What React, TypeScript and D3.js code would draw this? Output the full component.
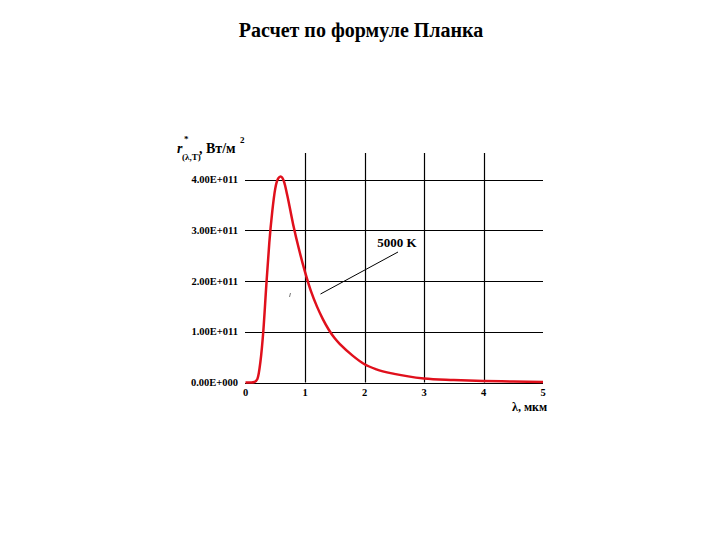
import React, { useRef, useEffect } from 'react';
import * as d3 from 'd3';

// wavelength, мкм
const lambda = [0, 0.1, 0.15, 0.2, 0.25, 0.3, 0.35, 0.4, 0.45, 0.5, 0.55, 0.59, 0.65, 0.7, 0.8, 0.9, 1.0, 1.1, 1.2, 1.3, 1.4, 1.5, 1.6, 1.8, 2.0, 2.2, 2.5, 3.0, 3.5, 4.0, 4.5, 5.0];
// r*(λ,T), Вт/м2, T = 5000 K
const radiance = [0, 0, 0.01e11, 0.07e11, 0.4e11, 1.02e11, 1.92e11, 2.75e11, 3.37e11, 3.82e11, 4.02e11, 4.06e11, 3.95e11, 3.7e11, 3.12e11, 2.62e11, 2.18e11, 1.8e11, 1.5e11, 1.25e11, 1.04e11, 0.87e11, 0.74e11, 0.53e11, 0.36e11, 0.26e11, 0.17e11, 0.08e11, 0.05e11, 0.03e11, 0.02e11, 0.01e11];

const xTicks = [0, 1, 2, 3, 4, 5];
const yTicks = [0, 1e11, 2e11, 3e11, 4e11];
const yTickLabels = ['0.00E+000', '1.00E+011', '2.00E+011', '3.00E+011', '4.00E+011'];

const FONT = '"Liberation Serif", "Times New Roman", serif';

const App = () => {
    const svgRef = useRef<SVGSVGElement>(null);

    useEffect(() => {
        const svg = d3.select(svgRef.current);
        svg.selectAll('*').remove();

        const x = d3.scaleLinear().domain([0, 5]).range([245.5, 543]);
        const y = d3.scaleLinear().domain([0, 4e11]).range([382.5, 179.5]);

        svg.append('rect').attr('width', 720).attr('height', 540).attr('fill', '#fff');

        const label = (tx: number, ty: number, txt: string, size: number, anchor = 'start', italic = false) =>
            svg.append('text')
                .attr('x', tx).attr('y', ty)
                .attr('text-anchor', anchor)
                .style('font-family', FONT).style('font-weight', 'bold')
                .style('font-size', size + 'px')
                .style('font-style', italic ? 'italic' : 'normal')
                .text(txt);

        // title
        label(361, 37, 'Расчет по формуле Планка', 20, 'middle');

        // horizontal grid
        svg.append('g').selectAll('line').data(yTicks).enter().append('line')
            .attr('x1', 245).attr('x2', 543)
            .attr('y1', d => Math.round(y(d)) + 0.5).attr('y2', d => Math.round(y(d)) + 0.5)
            .attr('stroke', '#000').attr('stroke-width', 1.2);

        // vertical grid
        svg.append('g').selectAll('line').data(xTicks.filter(d => d > 0 && d < 5)).enter().append('line')
            .attr('x1', d => Math.round(x(d)) + 0.5).attr('x2', d => Math.round(x(d)) + 0.5)
            .attr('y1', 153).attr('y2', y(0))
            .attr('stroke', '#000').attr('stroke-width', 1.2);

        // y tick labels
        svg.append('g').selectAll('text').data(yTicks).enter().append('text')
            .attr('x', 238).attr('y', d => y(d) + 3.5)
            .attr('text-anchor', 'end')
            .style('font-family', FONT).style('font-weight', 'bold').style('font-size', '10.5px')
            .text((d, i) => yTickLabels[i]);

        // x tick labels
        svg.append('g').selectAll('text').data(xTicks).enter().append('text')
            .attr('x', d => x(d)).attr('y', 396)
            .attr('text-anchor', 'middle')
            .style('font-family', FONT).style('font-weight', 'bold').style('font-size', '10.5px')
            .text(d => d);

        // axis titles
        label(177, 153, 'r', 14, 'start', true);
        label(184, 142, '*', 9);
        label(182, 160, '(λ,T)', 9);
        label(199, 153, ', Вт/м', 14);
        label(240, 143, '2', 9);

        label(512, 411, 'λ, мкм', 12);

        // curve
        const pts = lambda.map((l, i) => [l, radiance[i]] as [number, number]);
        const line = d3.line<[number, number]>()
            .x(d => x(d[0])).y(d => y(d[1]))
            .curve(d3.curveMonotoneX);
        svg.append('path')
            .datum(pts)
            .attr('d', line)
            .attr('fill', 'none')
            .attr('stroke', '#e0101c')
            .attr('stroke-width', 2.5)
            .attr('stroke-linejoin', 'round');

        // annotation
        svg.append('line')
            .attr('x1', 398).attr('y1', 252).attr('x2', 320.5).attr('y2', 294)
            .attr('stroke', '#000').attr('stroke-width', 1);
        svg.append('line')
            .attr('x1', 289.5).attr('y1', 297).attr('x2', 290.5).attr('y2', 293)
            .attr('stroke', '#555').attr('stroke-width', 0.8);
        label(397, 247, '5000 K', 13, 'middle');
    }, []);

    return (
        <svg ref={svgRef} width={720} height={540}
            style={{ position: 'absolute', left: 0, top: 0, display: 'block' }} />
    );
};

export default App;
